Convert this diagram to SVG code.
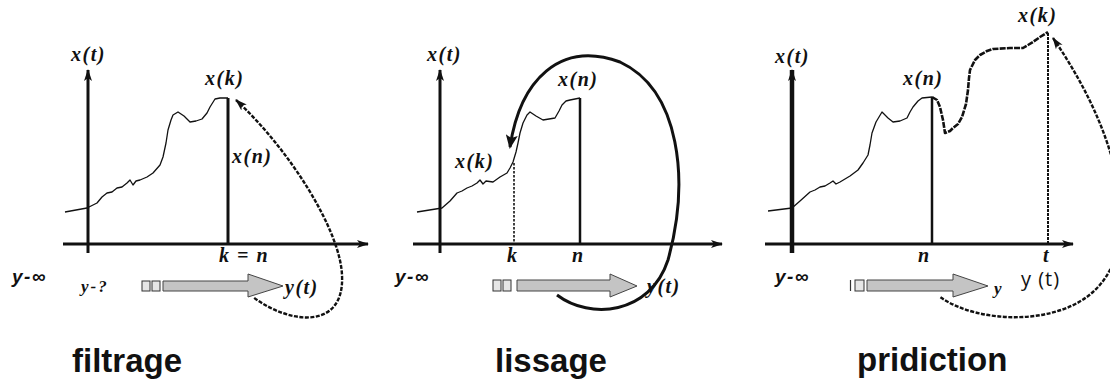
<svg xmlns="http://www.w3.org/2000/svg" width="1110" height="383" viewBox="0 0 1110 383">
<defs>
<style>
.bg{fill:#fff}
.axis{stroke:#111;stroke-width:3;fill:none}
.axisv3{stroke:#111;stroke-width:4.5;fill:none}
.sig{stroke:#111;stroke-width:1.3;fill:none;stroke-linejoin:round}
.sigb{stroke:#111;stroke-width:2.6;fill:none;stroke-linejoin:round;stroke-dasharray:6 1.2}
.vsol{stroke:#111;stroke-width:2.5}
.vthick{stroke:#111;stroke-width:3}
.vdot{stroke:#111;stroke-width:1.6;stroke-dasharray:2.5 1.5}
.vdot2{stroke:#111;stroke-width:2;stroke-dasharray:3 1}
.dash{stroke:#111;stroke-width:2.4;fill:none;stroke-dasharray:4 1.5}
.arc{stroke:#111;stroke-width:3;fill:none}
.garr{fill:#c4c4c4;stroke:#444;stroke-width:1}
.sq{fill:#e6e6e6;stroke:#333;stroke-width:1}
.lab{font-family:"Liberation Serif",serif;font-weight:bold;font-style:italic;font-size:20px;letter-spacing:1.5px;fill:#111}
.labs{font-family:"Liberation Serif",serif;font-weight:bold;font-style:italic;font-size:17px;letter-spacing:2px;fill:#111}
.yinf{font-family:"Liberation Sans",sans-serif;font-weight:bold;font-style:italic;font-size:19px;letter-spacing:1.5px;fill:#111}
.title{font-family:"Liberation Sans",sans-serif;font-weight:bold;font-size:33px;fill:#111}
.yt{font-family:"Open Sans",sans-serif;font-size:20px;letter-spacing:1px;fill:#111}
</style>
<marker id="ah" viewBox="0 0 12 10" refX="11" refY="5" markerWidth="12" markerHeight="10" markerUnits="userSpaceOnUse" orient="auto">
<path d="M0,1 L12,5 L0,9 L3,5 z" fill="#111"/>
</marker>
<marker id="ahs" viewBox="0 0 12 10" refX="11" refY="5" markerWidth="12" markerHeight="10" markerUnits="userSpaceOnUse" orient="auto-start-reverse">
<path d="M0,1 L12,5 L0,9 L3,5 z" fill="#111"/>
</marker>
<marker id="ahb" viewBox="0 0 14 12" refX="12" refY="6" markerWidth="14" markerHeight="12" markerUnits="userSpaceOnUse" orient="auto">
<path d="M0,0 L14,6 L0,12 L3,6 z" fill="#111"/>
</marker>
</defs>
<rect class="bg" x="0" y="0" width="1110" height="383"/>

<!-- Panel 1: filtrage -->
<g id="panel-filtrage">
<line class="axis" x1="88" y1="253" x2="88" y2="70" marker-end="url(#ah)"/>
<line class="axis" x1="63" y1="244" x2="368" y2="244" marker-end="url(#ah)"/>
<polyline class="sig" points="65,212 87,208 97,203 102,197 107,193 112,192 117,188 122,187 127,183 130,180 133,185 136,181 140,180 147,177 153,173 160,165 163,157 166,143 168,130 171,120 173,115 178,112 184,116 190,122 196,121 202,119 207,113 210,107 215,99 220,98 228,98"/>
<line class="vthick" x1="228" y1="98" x2="228" y2="244"/>
<text class="lab" x="71" y="61">x(t)</text>
<text class="lab" x="205" y="85">x(k)</text>
<text class="lab" x="232" y="163">x(n)</text>
<text class="lab" x="219" y="262">k = n</text>
<text class="yinf" x="12" y="283">y-∞</text>
<text class="labs" x="81" y="292">y-?</text>
<rect class="sq" x="142" y="281" width="8" height="10"/>
<rect class="sq" x="152" y="281" width="8" height="10"/>
<polygon class="garr" points="163,281 248,281 248,274 283,286 248,297 248,291 163,291"/>
<text class="lab" x="285" y="294">y(t)</text>
<path class="dash" d="M236,100 C290,150 340,230 342,275 C345,330 290,325 253,297" marker-start="url(#ahs)"/>
<text class="title" x="72" y="372">filtrage</text>
</g>

<!-- Panel 2: lissage -->
<g id="panel-lissage">
<line class="axis" x1="440" y1="253" x2="440" y2="70" marker-end="url(#ah)"/>
<line class="axis" x1="413" y1="244" x2="722" y2="244" marker-end="url(#ah)"/>
<polyline class="sig" points="417,212 442,208 450,201 457,193 462,191 467,188 472,186 477,183 480,180 483,184 486,181 493,182 500,177 507,173 510,168 513,162 516,152 518,143 520,133 523,123 527,115 530,112 536,116 543,120 549,119 555,118 559,111 562,105 566,101 570,100 580,98"/>
<line class="vsol" x1="580" y1="98" x2="580" y2="244"/>
<line class="vdot" x1="514" y1="163" x2="514" y2="244"/>
<text class="lab" x="427" y="61">x(t)</text>
<text class="lab" x="558" y="86">x(n)</text>
<text class="lab" x="455" y="168">x(k)</text>
<text class="lab" x="507" y="262">k</text>
<text class="lab" x="572" y="262">n</text>
<text class="yinf" x="395" y="283">y-∞</text>
<rect class="sq" x="493" y="280" width="8" height="11"/>
<rect class="sq" x="503" y="280" width="8" height="11"/>
<polygon class="garr" points="517,280 610,280 610,274 637,286 610,297 610,291 517,291"/>
<text class="lab" x="647" y="293">y(t)</text>
<path class="arc" d="M557,295 C590,320 650,315 668,260 C690,180 680,90 620,62 C560,40 520,80 510,147" marker-end="url(#ahb)"/>
<text class="title" x="495" y="372">lissage</text>
</g>

<!-- Panel 3: pridiction -->
<g id="panel-pridiction">
<line class="axisv3" x1="792" y1="253" x2="792" y2="70" marker-end="url(#ah)"/>
<line class="axis" x1="765" y1="244" x2="1073" y2="244" marker-end="url(#ah)"/>
<polyline class="sig" points="768,211 792,208 800,201 810,192 815,190 820,187 825,186 830,183 833,181 836,184 840,182 850,176 858,170 863,163 868,155 870,145 872,133 876,122 882,112 888,118 893,122 900,121 907,118 910,112 913,107 918,101 922,98 932,97"/>
<polyline class="sigb" points="932,97 937,100 940,107 943,120 945,133 950,131 953,128 958,124 962,117 966,104 968,90 969,78 970,70 975,60 980,55 987,51 993,49 1010,48 1023,48 1028,45 1033,42 1040,37 1048,32"/>
<line class="vsol" x1="932" y1="97" x2="932" y2="244"/>
<line class="vdot2" x1="1048" y1="33" x2="1048" y2="244"/>
<text class="lab" x="775" y="63">x(t)</text>
<text class="lab" x="903" y="85">x(n)</text>
<text class="lab" x="1018" y="22">x(k)</text>
<text class="lab" x="918" y="262">n</text>
<text class="lab" x="1043" y="262">t</text>
<text class="yinf" x="775" y="283">y-∞</text>
<line x1="850.5" y1="280" x2="850.5" y2="291" stroke="#333" stroke-width="1.2"/>
<rect class="sq" x="855" y="280" width="9" height="11"/>
<polygon class="garr" points="867,280 953,280 953,274 988,286 953,297 953,291 867,291"/>
<text class="labs" x="994" y="294">y</text>
<text class="yt" x="1021" y="286">y (t)</text>
<path class="dash" d="M1053,38 C1130,150 1138,250 1095,290 C1060,325 980,325 940,297" marker-start="url(#ahs)"/>
<text class="title" x="857" y="371">pridiction</text>
</g>
</svg>
